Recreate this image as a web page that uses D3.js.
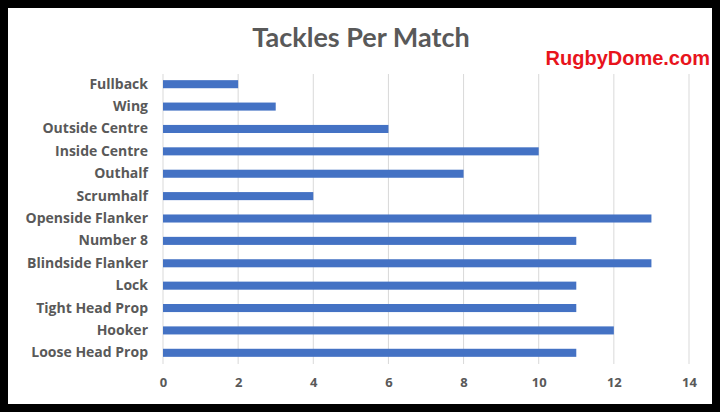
<!DOCTYPE html>
<html>
<head>
<meta charset="utf-8">
<script src="https://cdn.jsdelivr.net/npm/d3@7.9.0/dist/d3.min.js"></script>
<style>
  body { margin: 0; background: #000; }
  svg { display: block; }
</style>
</head>
<body>
<svg id="chart" width="720" height="412"></svg>
<script>
const positions = ['Fullback', 'Wing', 'Outside Centre', 'Inside Centre', 'Outhalf', 'Scrumhalf',
  'Openside Flanker', 'Number 8', 'Blindside Flanker', 'Lock', 'Tight Head Prop', 'Hooker', 'Loose Head Prop'];
const tackles = [2, 3, 6, 10, 8, 4, 13, 11, 13, 11, 11, 12, 11];
const xTicks = [0, 2, 4, 6, 8, 10, 12, 14];

const svg = d3.select('#chart');
const font = '"Open Sans", Lato, sans-serif';

// white card inside the black frame
svg.append('rect')
  .attr('x', 8).attr('y', 8)
  .attr('width', 704).attr('height', 396)
  .attr('fill', '#fff');

let x = d3.scaleLinear().domain([0, 14]).range([163, 689]);
let y = d3.scaleBand().domain(positions).range([73, 364]).paddingInner(0.64).paddingOuter(0.32);

// gridlines
svg.append('g')
  .selectAll('line')
  .data(xTicks)
  .join('line')
  .attr('x1', (d) => x(d)).attr('x2', (d) => x(d))
  .attr('y1', 74).attr('y2', 364)
  .attr('stroke', '#d9d9d9')
  .attr('stroke-width', 1);

// bars
svg.append('g')
  .selectAll('rect')
  .data(tackles)
  .join('rect')
  .attr('x', x(0))
  .attr('y', (d, i) => y(positions[i]))
  .attr('width', (d) => x(d) - x(0))
  .attr('height', y.bandwidth())
  .attr('fill', '#4472c4');

// axes
let xAxis = svg.append('g')
  .attr('transform', 'translate(0,364)')
  .call(d3.axisBottom(x).tickValues(xTicks).tickSize(0).tickPadding(14));
xAxis.select('.domain').remove();
xAxis.selectAll('text')
  .attr('font-family', font).attr('font-size', 13).attr('font-weight', 'bold')
  .attr('fill', '#595959');

let yAxis = svg.append('g')
  .attr('transform', 'translate(148,0)')
  .call(d3.axisLeft(y).tickSize(0).tickPadding(0));
yAxis.select('.domain').remove();
yAxis.selectAll('text')
  .attr('font-family', font).attr('font-size', 14).attr('font-weight', 'bold')
  .attr('fill', '#595959');

// title + watermark
svg.append('text')
  .attr('x', 361).attr('y', 47)
  .attr('text-anchor', 'middle')
  .attr('font-family', 'Lato, sans-serif').attr('font-size', 27).attr('font-weight', 'bold')
  .attr('fill', '#595959')
  .text('Tackles Per Match');

svg.append('text')
  .attr('x', 710).attr('y', 65)
  .attr('text-anchor', 'end')
  .attr('font-family', 'Liberation Sans, Arial, sans-serif').attr('font-size', 20).attr('font-weight', 'bold')
  .attr('fill', '#e8141c')
  .text('RugbyDome.com');
</script>
</body>
</html>
